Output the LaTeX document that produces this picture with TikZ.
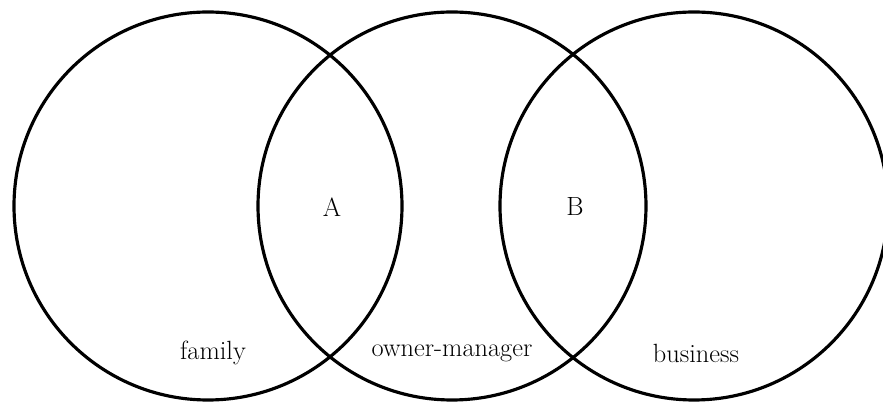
\documentclass[tikz,border=0pt]{standalone}
\usepackage{tikz}

\begin{document}
\begin{tikzpicture}[x=0.02cm,y=0.02cm,line width=1.8pt]
 \useasboundingbox (0,0) rectangle (883,402);
 \begin{scope}
 \clip (0,0) rectangle (883,402);
 \foreach \x/\name in {208/fam,452/own,694/bus}{%
   \draw (\x,196) circle[radius=194];
   \coordinate (\name) at (\x,196);
 }
 \end{scope}
 \node[font=\fontsize{15}{18}\selectfont] (famlab) at (213,49) {family};
 \node[font=\fontsize{15}{18}\selectfont] (ownlab) at (452,49) {owner-manager};
 \node[font=\fontsize{15}{18}\selectfont] (buslab) at (696,49) {business};
 \node[font=\fontsize{15}{18}\selectfont] (A) at (332,195) {A};
 \node[font=\fontsize{15}{18}\selectfont] (B) at (575,195) {B};
\end{tikzpicture}
\end{document}
